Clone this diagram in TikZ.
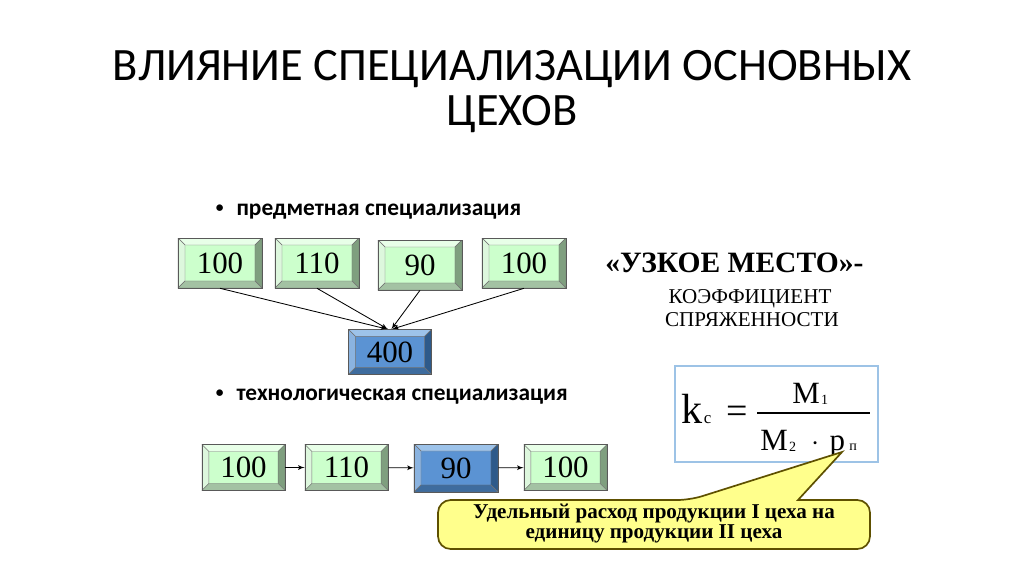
\documentclass[tikz,border=0pt]{standalone}
\usepackage{fontspec}
\setmainfont{Liberation Serif}
\newfontfamily\calibri{Carlito}
\usetikzlibrary{arrows, positioning, calc}

\definecolor{gfill}{HTML}{CCFFCC}
\definecolor{gtop}{HTML}{E8FFE8}
\definecolor{gleft}{HTML}{DDF7DD}
\definecolor{gright}{HTML}{7F9F7F}
\definecolor{gbot}{HTML}{A3C2A3}
\definecolor{bfill}{HTML}{5B93D3}
\definecolor{btop}{HTML}{9DC3EA}
\definecolor{bleft}{HTML}{8AB3E0}
\definecolor{bright}{HTML}{2E5A8A}
\definecolor{bbot}{HTML}{3E6C9E}
\definecolor{notefill}{HTML}{FFFF8C}
\definecolor{noteline}{HTML}{5E5000}
\definecolor{framec}{HTML}{9DC3E6}

\begin{document}
\begin{tikzpicture}[x=0.025cm, y=-0.025cm,
        bevel/.style n args={5}{rectangle, draw=black!65, fill=#1, inner sep=0pt,
            minimum width=2.1cm, minimum height=1.25cm, font=\fontsize{22}{22}\selectfont,
            path picture={
                \coordinate (nw) at (path picture bounding box.north west);
                \coordinate (ne) at (path picture bounding box.north east);
                \coordinate (sw) at (path picture bounding box.south west);
                \coordinate (se) at (path picture bounding box.south east);
                \filldraw[fill=#2, draw=black!55, line width=0.3pt] (nw) -- (ne) -- ($(ne)+(-5pt,-5pt)$) -- ($(nw)+(5pt,-5pt)$) -- cycle;
                \filldraw[fill=#3, draw=black!55, line width=0.3pt] (nw) -- (sw) -- ($(sw)+(5pt,5pt)$) -- ($(nw)+(5pt,-5pt)$) -- cycle;
                \filldraw[fill=#4, draw=black!55, line width=0.3pt] (ne) -- (se) -- ($(se)+(-5pt,5pt)$) -- ($(ne)+(-5pt,-5pt)$) -- cycle;
                \filldraw[fill=#5, draw=black!55, line width=0.3pt] (sw) -- (se) -- ($(se)+(-5pt,5pt)$) -- ($(sw)+(5pt,5pt)$) -- cycle;
            }},
        greenbox/.style={bevel={gfill}{gtop}{gleft}{gright}{gbot}},
        bluebox/.style={bevel={bfill}{btop}{bleft}{bright}{bbot}},
        line/.style={draw, line width=0.6pt, -latex'},
        heading/.style={anchor=base, font=\calibri\fontsize{33}{33}\selectfont},
        bullet/.style={anchor=base west, font=\calibri\bfseries\fontsize{16.6}{16.6}\selectfont},
        formulabox/.style={rectangle, draw=framec, line width=0.8pt, minimum width=5.075cm, minimum height=2.4cm},
        note/.style={anchor=base, inner sep=0pt, font=\bfseries\fontsize{15}{15}\selectfont}
    ]
        \useasboundingbox (0,0) rectangle (1024,574);

        % Title
        \node[heading] (title) at (512,80) {ВЛИЯНИЕ СПЕЦИАЛИЗАЦИИ ОСНОВНЫХ};
        \node[heading] (title2) at (512,125) {ЦЕХОВ};

        % Subject specialisation
        \node[bullet] (subj) at (211,215) {{\fontsize{11}{11}\selectfont\raisebox{1.5pt}{•}}\hspace{0.55em}предметная специализация};
        \node[greenbox] (s1) at (220,263) {100};
        \node[greenbox] (s2) at (317,263) {110};
        \node[greenbox] (s3) at (420,265) {90};
        \node[greenbox] (s4) at (524,263) {100};
        \node[bluebox, minimum width=2.08cm, minimum height=1.13cm] (total) at (390,352) {400};

        \draw[line] (s1.south) -- ([xshift=-2pt]total.north);
        \draw[line] (s2.south) -- ([xshift=-1.5pt]total.north);
        \draw[line] (s3.south) -- ([xshift=1pt]total.north);
        \draw[line] (s4.south) -- ([xshift=1.5pt]total.north);

        % Technological specialisation
        \node[bullet] (tech) at (211,400) {{\fontsize{11}{11}\selectfont\raisebox{1.5pt}{•}}\hspace{0.55em}технологическая специализация};
        \node[greenbox, minimum width=2.08cm, minimum height=1.15cm] (t1) at (243.5,467.5) {100};
        \node[greenbox, minimum width=2.08cm, minimum height=1.15cm] (t2) at (346.5,467.5) {110};
        \node[bluebox, minimum width=2.1cm, minimum height=1.2cm] (t3) at (456,468) {90};
        \node[greenbox, minimum width=2.08cm, minimum height=1.15cm] (t4) at (565.5,467.5) {100};

        \draw[line] (t1) -- (t2);
        \draw[line] (t2) -- (t3);
        \draw[line] (t3) -- (t4);

        % Bottleneck
        \node[anchor=base west, inner sep=0pt, font=\bfseries\fontsize{21}{21}\selectfont] (neck) at (605,272) {«УЗКОЕ МЕСТО»-};
        \node[anchor=base, font=\fontsize{15}{15}\selectfont] (coef) at (750,303) {КОЭФФИЦИЕНТ};
        \node[anchor=base, font=\fontsize{15}{15}\selectfont] (conj) at (752,326) {СПРЯЖЕННОСТИ};

        % Formula
        \node[formulabox] (formula) at (776.5,414) {};
        \node[anchor=base west, inner sep=0pt, font=\fontsize{30}{30}\selectfont] (kc) at (681,423) {k\hspace{1pt}{\fontsize{12}{12}\selectfont c}};
        \node[anchor=base west, inner sep=0pt, font=\fontsize{27}{27}\selectfont] (eq) at (726,423) {=};
        \coordinate (fracl) at (757,413);
        \coordinate (fracr) at (870,413);
        \draw[line width=0.8pt] (fracl) -- (fracr);
        \node[anchor=base west, inner sep=0pt, font=\fontsize{22}{22}\selectfont] (num) at (792,403) {M\hspace{1pt}\raisebox{-1pt}{\fontsize{10}{10}\selectfont 1}};
        \node[anchor=base west, inner sep=0pt, font=\fontsize{22}{22}\selectfont] (den) at (760,450) {M\hspace{1pt}\raisebox{-1pt}{\fontsize{10}{10}\selectfont 2}\hspace{11pt}$\cdot$\hspace{7pt}p\hspace{3pt}{\fontsize{10}{10}\selectfont п}};

        % Callout
        \coordinate (ptip) at (842,452);
        \draw[fill=notefill, draw=noteline, line width=1.2pt, rounded corners=9pt]
            (438,500) -- (690,500) [sharp corners] -- (ptip) -- (798,500) [rounded corners=9pt] -- (870,500) -- (870,549) -- (438,549) -- cycle;
        \node[note] (notetext) at (654,518) {Удельный расход продукции I цеха на};
        \node[note] (notetext2) at (654,538) {единицу продукции II цеха};
    \end{tikzpicture}
\end{document}
